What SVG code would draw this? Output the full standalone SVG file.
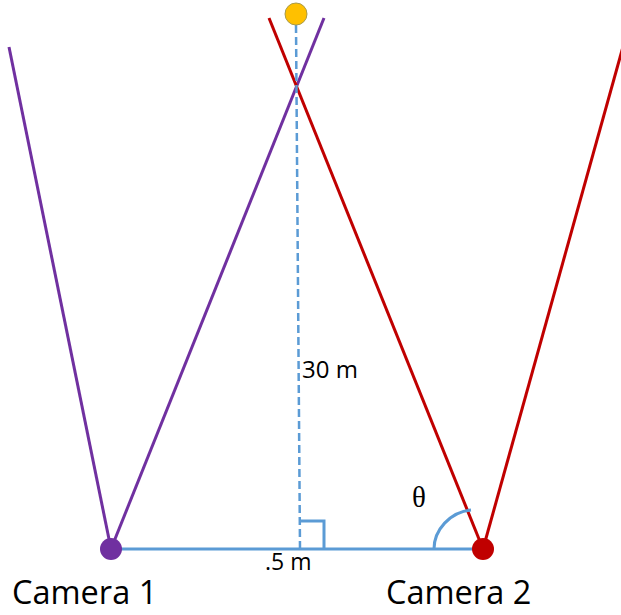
<svg xmlns="http://www.w3.org/2000/svg" width="621" height="615" viewBox="0 0 621 615">
<style>
.lbl{font-family:"Open Sans","Liberation Sans",sans-serif;fill:#000}
.blue{stroke:#5B9BD5;stroke-width:3;fill:none}
.purple{stroke:#7030A0;stroke-width:3;fill:none}
.red{stroke:#C00000;stroke-width:3;fill:none}
</style>
<rect width="621" height="615" fill="#fff"/>
<g id="connectors">
<line class="purple" x1="111" y1="549" x2="9" y2="47"/>
<line class="purple" x1="111" y1="549" x2="324" y2="18"/>
<line class="red" x1="483" y1="549" x2="269" y2="18"/>
<line class="red" x1="483" y1="549" x2="626" y2="36"/>
<line class="blue" x1="111" y1="549" x2="483" y2="549"/>
<line x1="296" y1="25" x2="300" y2="549" stroke="#5B9BD5" stroke-width="2.5" stroke-dasharray="8 4"/>
<polyline class="blue" points="300,521 324,521 324,549"/>
<path class="blue" d="M434,549 C434,530 450,512 471,510"/>
</g>
<g id="target"><circle cx="296" cy="14" r="11" fill="#FFC000" stroke="#A89A4A" stroke-width="1"/></g>
<g id="camera1"><circle cx="111" cy="549" r="11" fill="#7030A0"/><text class="lbl" x="12" y="604" font-size="32.5">Camera 1</text></g>
<g id="camera2"><circle cx="483" cy="549" r="11" fill="#C00000"/><text class="lbl" x="386" y="604" font-size="32.5">Camera 2</text></g>
<text class="lbl" x="302" y="378" font-size="24">30 m</text>
<text class="lbl" x="265" y="570" font-size="23">.5 m</text>
<text x="412" y="507" font-size="29" font-family="'Liberation Serif',serif">θ</text>
</svg>
